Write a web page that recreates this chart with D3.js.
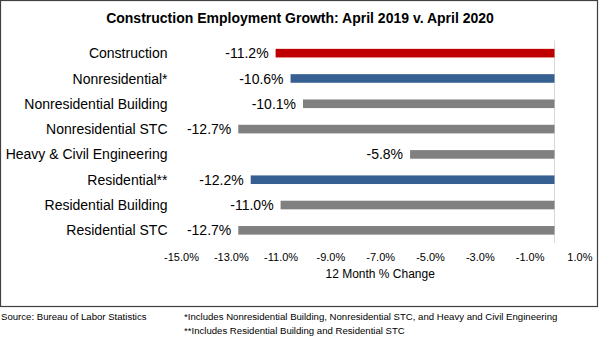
<!DOCTYPE html>
<html>
<head>
<meta charset="utf-8">
<script src="https://cdn.jsdelivr.net/npm/d3@7"></script>
<style>
  body { margin: 0; background: #fff; }
  svg { display: block; font-family: Arial, "Liberation Sans", sans-serif; }
</style>
</head>
<body>
<svg id="chart" width="600" height="339"></svg>
<script>
// categories top to bottom
var categories = ["Construction", "Nonresidential*", "Nonresidential Building", "Nonresidential STC",
  "Heavy & Civil Engineering", "Residential**", "Residential Building", "Residential STC"];
var values = [-11.2, -10.6, -10.1, -12.7, -5.8, -12.2, -11.0, -12.7];
var barColors = ["#c00000", "#376092", "#808080", "#808080", "#808080", "#376092", "#808080", "#808080"];
var tickValues = [-15, -13, -11, -9, -7, -5, -3, -1, 1];

var svg = d3.select("#chart");
var width = 600, height = 339;

// outer frame
svg.append("rect")
  .attr("x", 0.5).attr("y", 0.5)
  .attr("width", 597).attr("height", 306)
  .attr("fill", "none")
  .attr("stroke", "#404040")
  .attr("stroke-width", 1.2);

svg.append("text")
  .attr("x", 300).attr("y", 23)
  .attr("text-anchor", "middle")
  .style("font-size", "14px")
  .style("font-weight", "bold")
  .text("Construction Employment Growth: April 2019 v. April 2020");

var xScale = d3.scaleLinear()
  .domain([-15, 1])
  .range([181, 579.4]);

var yScale = d3.scaleBand()
  .domain(categories)
  .range([40.5, 243])
  .paddingInner(0.66)
  .paddingOuter(0.33);

// zero line
svg.append("line")
  .attr("x1", xScale(0)).attr("x2", xScale(0))
  .attr("y1", 40.5).attr("y2", 243)
  .attr("stroke", "#d9d9d9")
  .attr("stroke-width", 1);

svg.selectAll(".bar")
  .data(values)
  .enter().append("rect")
  .attr("class", "bar")
  .attr("x", function(d) { return xScale(d); })
  .attr("y", function(d, i) { return yScale(categories[i]); })
  .attr("width", function(d) { return xScale(0) - xScale(d); })
  .attr("height", yScale.bandwidth())
  .attr("fill", function(d, i) { return barColors[i]; });

// value labels
svg.selectAll(".val")
  .data(values)
  .enter().append("text")
  .attr("class", "val")
  .attr("x", function(d) { return xScale(d) - 7; })
  .attr("y", function(d, i) { return yScale(categories[i]) + yScale.bandwidth() / 2; })
  .attr("dy", "0.36em")
  .attr("text-anchor", "end")
  .style("font-size", "14px")
  .style("fill", "#000")
  .text(function(d) { return d.toFixed(1) + "%"; });

// category labels
svg.selectAll(".cat")
  .data(categories)
  .enter().append("text")
  .attr("class", "cat")
  .attr("x", 167.5)
  .attr("y", function(d) { return yScale(d) + yScale.bandwidth() / 2; })
  .attr("dy", "0.36em")
  .attr("text-anchor", "end")
  .style("font-size", "14px")
  .style("fill", "#000")
  .text(function(d) { return d; });

var xAxis = svg.append("g")
  .attr("transform", "translate(0,243)")
  .call(d3.axisBottom(xScale)
    .tickValues(tickValues)
    .tickSize(0)
    .tickPadding(10)
    .tickFormat(function(d) { return d.toFixed(1) + "%"; }));
xAxis.select(".domain").remove();
xAxis.selectAll("text")
  .style("font-size", "11px")
  .style("font-family", "Arial, 'Liberation Sans', sans-serif")
  .style("fill", "#000");

svg.append("text")
  .attr("x", (xScale(-15) + xScale(1)) / 2)
  .attr("y", 277.5)
  .attr("text-anchor", "middle")
  .style("font-size", "12px")
  .text("12 Month % Change");

// footnotes
svg.append("text")
  .attr("x", 1).attr("y", 320)
  .style("font-size", "9.6px")
  .text("Source:  Bureau of Labor Statistics");
svg.append("text")
  .attr("x", 184).attr("y", 320)
  .style("font-size", "9.6px")
  .text("*Includes Nonresidential Building, Nonresidential STC, and Heavy and Civil Engineering");
svg.append("text")
  .attr("x", 184).attr("y", 334)
  .style("font-size", "9.6px")
  .text("**Includes Residential Building and Residential STC");
</script>
</body>
</html>
